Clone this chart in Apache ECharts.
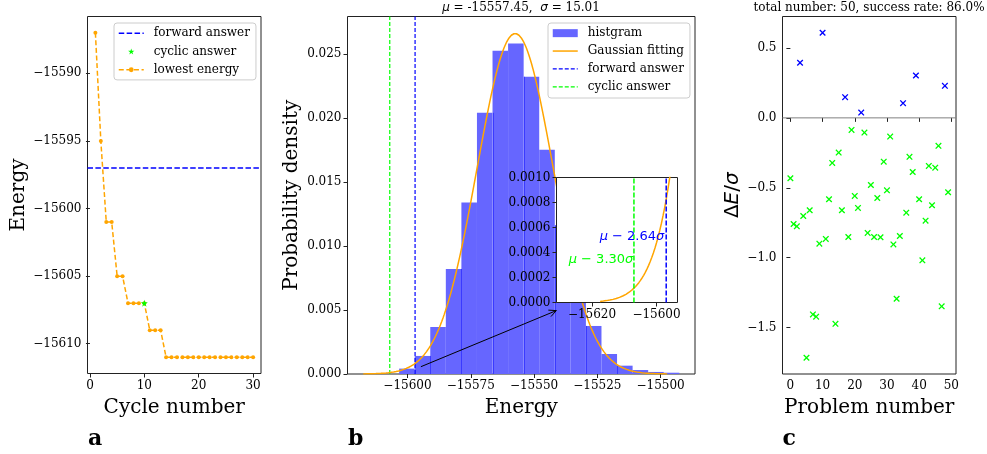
<!DOCTYPE html>
<html><head><meta charset="utf-8">
<script src="https://cdn.jsdelivr.net/npm/echarts@6/dist/echarts.min.js"></script>
<style>html,body{margin:0;padding:0;background:#fff}#main{width:987px;height:454px}</style>
</head><body><div id="main"></div>
<script>
// ---------------- Panel a data ----------------
const cycleNumbers = [1,2,3,4,5,6,7,8,9,10,11,12,13,14,15,16,17,18,19,20,21,22,23,24,25,26,27,28,29,30];
const lowestEnergy = [-15587,-15595,-15601,-15601,-15605,-15605,-15607,-15607,-15607,-15607,
  -15609,-15609,-15609,-15611,-15611,-15611,-15611,-15611,-15611,-15611,
  -15611,-15611,-15611,-15611,-15611,-15611,-15611,-15611,-15611,-15611];
const forwardAnswer = -15597;
const cyclicAnswer = -15607;
const cyclicCycle = 10;
const cycleTicks = [0,10,20,30];
const energyTicksA = [-15610,-15605,-15600,-15595,-15590];

// ---------------- Panel b data ----------------
const MU = -15557.45;
const SIGMA = 15.01;
const histEdges = [-15603.30,-15597.15,-15591.00,-15584.85,-15578.70,-15572.55,-15566.40,-15560.25,
  -15554.10,-15547.95,-15541.80,-15535.65,-15529.50,-15523.35,-15517.20,-15511.05,-15504.90,-15498.75,-15492.60];
const histDensity = [0.00042,0.00141,0.00367,0.0082,0.01339,0.02039,0.02523,0.02581,0.0232,
  0.0175,0.0116,0.0064,0.00375,0.00156,0.00065,0.00031,0.00016,0.0001];
const energyTicksB = [-15600,-15575,-15550,-15525,-15500];
const densityTicks = [0,0.005,0.010,0.015,0.020,0.025];
const insetEnergyTicks = [-15620,-15600];
const insetDensityTicks = [0,0.0002,0.0004,0.0006,0.0008,0.0010];
const arrowFrom = [-15594.7, 0.00057];
const arrowTo = [-15541.2, 0.00495];
const insetLabels = ['{i|μ} − 2.64{i|σ}', '{i|μ} − 3.30{i|σ}'];
const insetLabelPos = [[-15597.6, 0.00053], [-15607.2, 0.00034]];

// ---------------- Panel c data ----------------
const failProblems = [3,10,17,22,35,39,48];
const failDeltas = [0.394,0.609,0.148,0.038,0.105,0.303,0.229];
const successProblems = [0,1,2,4,5,6,7,8,9,11,12,13,14,15,16,18,19,20,21,23,24,25,26,27,28,29,30,31,32,33,34,36,37,38,40,41,42,43,44,45,46,47,49];
const successDeltas = [-0.432,-0.759,-0.776,-0.702,-1.716,-0.661,-1.406,-1.422,-0.900,-0.866,-0.582,-0.322,-1.473,-0.248,-0.661,
  -0.852,-0.086,-0.558,-0.644,-0.105,-0.823,-0.480,-0.852,-0.573,-0.854,-0.313,-0.518,-0.134,-0.905,-1.294,-0.845,
  -0.678,-0.279,-0.387,-0.582,-1.019,-0.735,-0.344,-0.625,-0.356,-0.200,-1.348,-0.532];
const problemTicks = [0,10,20,30,40,50];
const deltaTicks = [-1.5,-1.0,-0.5,0.0,0.5];

// ---------------- styling / layout ----------------
const SERIF = 'DejaVu Serif';
const BLUE = '#0000ff', GREEN = '#00ff00', ORANGE = '#ffa500';
const A_X = [-0.45, 31.45], A_Y = [-15612.2, -15585.8];
const B_X = [-15623.7, -15486.4], B_Y = [0, 0.02791];
const I_X = [-15631, -15593.5], I_Y = [0, 0.0010];
const C_X = [-2.45, 51.45], C_Y = [-1.832, 0.725];

// Fitted Gaussian curve (parameters given in the panel title)
const gaussPoints = [];
for (let k = 0; k <= 240; k++) {
  const x = MU - 4 * SIGMA + k * (8 * SIGMA / 240);
  const z = (x - MU) / SIGMA;
  gaussPoints.push([x, Math.exp(-0.5 * z * z) / (SIGMA * Math.sqrt(2 * Math.PI))]);
}

const minus = s => s.replace('-', '\u2212');
function axis(gridIndex, range, ticks, fmt, extra) {
  return Object.assign({
    type: 'value', gridIndex, min: range[0], max: range[1],
    axisLine: {show: false}, splitLine: {show: false},
    axisTick: {show: true, inside: false, length: 4, customValues: ticks, lineStyle: {color: '#222', width: 1}},
    axisLabel: {show: true, customValues: ticks, formatter: v => minus(fmt(v)), fontFamily: SERIF, fontSize: 12, color: '#000', margin: 6},
    nameLocation: 'middle',
    nameTextStyle: {fontFamily: SERIF, fontSize: 20, color: '#000', lineHeight: 22}
  }, extra || {});
}
const gridStyle = {show: true, borderColor: '#222', borderWidth: 1, backgroundColor: 'transparent', containLabel: false};
const xPath = 'path://M0,1.4L1.4,0L5,3.6L8.6,0L10,1.4L6.4,5L10,8.6L8.6,10L5,6.4L1.4,10L0,8.6L3.6,5Z';
const starPath = 'path://M50,0L61.2,34.6L97.6,34.6L68.1,55.9L79.4,90.5L50,69L20.6,90.5L31.9,55.9L2.4,34.6L38.8,34.6Z';

const chart = echarts.init(document.getElementById('main'), null, {renderer: 'canvas'});
const legendBase = {
  orient: 'vertical', selectedMode: false, itemWidth: 25, itemGap: 4,
  backgroundColor: 'rgba(255,255,255,0.8)', borderColor: '#cccccc', borderWidth: 1, borderRadius: 3,
  textStyle: {fontFamily: SERIF, fontSize: 12, color: '#000', lineHeight: 14.3, padding: [0, 0, 0, 5]},
  lineStyle: {width: 'inherit'}
};

chart.setOption({
  animation: false,
  grid: [
    Object.assign({left: 87.5, top: 16.5, width: 173.5, height: 357}, gridStyle),
    Object.assign({left: 347.5, top: 16.5, width: 347.5, height: 357.5}, gridStyle),
    Object.assign({}, gridStyle, {left: 556.5, top: 177.5, width: 121, height: 125, z: 10, backgroundColor: '#fff'}),
    Object.assign({left: 782.5, top: 16.5, width: 173.5, height: 357.5}, gridStyle)
  ],
  xAxis: [
    axis(0, A_X, cycleTicks, v => String(v), {name: 'Cycle number', nameGap: 20}),
    axis(1, B_X, energyTicksB, v => String(v), {name: 'Energy', nameGap: 20}),
    axis(2, I_X, insetEnergyTicks, v => String(v), {z: 12}),
    axis(3, C_X, problemTicks, v => String(v), {name: 'Problem number', nameGap: 20})
  ],
  yAxis: [
    axis(0, A_Y, energyTicksA, v => String(v), {name: 'Energy', nameGap: 58}),
    axis(1, B_Y, densityTicks, v => v.toFixed(3), {name: 'Probability density', nameGap: 43}),
    axis(2, I_Y, insetDensityTicks, v => v.toFixed(4), {z: 12}),
    axis(3, C_Y, deltaTicks, v => v.toFixed(1), {name: '{n|Δ}{i|E}{n|/}{i|σ}', nameGap: 38,
      nameTextStyle: {fontFamily: SERIF, fontSize: 20, color: '#000', lineHeight: 22,
        rich: {n: {fontFamily: 'DejaVu Sans', fontSize: 20}, i: {fontFamily: 'DejaVu Sans', fontStyle: 'italic', fontSize: 20}}}})
  ],
  legend: [
    Object.assign({}, legendBase, {
      left: 114, top: 23, itemHeight: 6, padding: [3, 6, 3, 4],
      data: [{name: 'forward answer', itemStyle: {opacity: 0}}, {name: 'cyclic answer'}, {name: 'lowest energy'}]
    }),
    Object.assign({}, legendBase, {
      left: 548, top: 23, itemHeight: 8, itemGap: 3.6, padding: [3, 6, 4, 4],
      formatter: n => n.replace(' (b)', ''),
      data: [{name: 'histgram', icon: 'rect'}, {name: 'Gaussian fitting', itemStyle: {opacity: 0}},
        {name: 'forward answer (b)', itemStyle: {opacity: 0}}, {name: 'cyclic answer (b)', itemStyle: {opacity: 0}}]
    })
  ],
  graphic: [
    {type: 'text', x: 521, y: 8, style: {text: '{i|μ} = -15557.45,  {i|σ} = 15.01', align: 'center', verticalAlign: 'middle',
      font: '12px "DejaVu Serif"', fill: '#000', rich: {i: {fontStyle: 'italic', fontFamily: 'DejaVu Sans', fontSize: 12}}}},
    {type: 'text', x: 869, y: 8, style: {text: 'total number: 50, success rate: 86.0%', align: 'center', verticalAlign: 'middle',
      font: '12px "DejaVu Serif"', fill: '#000'}},
    {type: 'text', x: 88, y: 439.5, style: {text: 'a', verticalAlign: 'middle', font: 'bold 22px "DejaVu Serif"', fill: '#000'}},
    {type: 'text', x: 348, y: 439.5, style: {text: 'b', verticalAlign: 'middle', font: 'bold 22px "DejaVu Serif"', fill: '#000'}},
    {type: 'text', x: 782.5, y: 439.5, style: {text: 'c', verticalAlign: 'middle', font: 'bold 22px "DejaVu Serif"', fill: '#000'}}
  ],
  series: [
    // ---- panel a ----
    {type: 'line', name: 'forward answer', xAxisIndex: 0, yAxisIndex: 0, symbol: 'none', z: 2,
      data: [[A_X[0], forwardAnswer], [A_X[1], forwardAnswer]],
      lineStyle: {color: BLUE, width: 1.5, type: [5.5, 2.4]}, itemStyle: {color: BLUE}},
    {type: 'line', name: 'lowest energy', xAxisIndex: 0, yAxisIndex: 0, symbol: 'circle', symbolSize: 4, z: 3,
      data: cycleNumbers.map((c, i) => [c, lowestEnergy[i]]),
      lineStyle: {color: ORANGE, width: 1.5, type: [5, 2.6]}, itemStyle: {color: ORANGE}},
    {type: 'scatter', name: 'cyclic answer', xAxisIndex: 0, yAxisIndex: 0, symbol: starPath, symbolSize: 7, z: 5,
      data: [[cyclicCycle, cyclicAnswer]], itemStyle: {color: GREEN, opacity: 1}},
    // ---- panel b ----
    {type: 'custom', name: 'histgram', xAxisIndex: 1, yAxisIndex: 1, z: 2,
      itemStyle: {color: '#6666ff'},
      data: histDensity.map((d, i) => [histEdges[i], histEdges[i + 1], d, i > 0 ? histDensity[i - 1] : 0, i]),
      encode: {x: [0, 1], y: 2},
      renderItem: (params, api) => {
        const p0 = api.coord([api.value(0), api.value(2)]);
        const p1 = api.coord([api.value(1), 0]);
        const children = [{type: 'rect', shape: {x: p0[0], y: p0[1], width: p1[0] - p0[0], height: p1[1] - p0[1]},
          style: {fill: '#6666ff'}}];
        const idx = api.value(4);
        if (idx >= 2 && idx <= 14 && idx % 2 === 0) {
          // darker seam where neighbouring translucent bars overlap
          const top = api.coord([api.value(0), Math.min(api.value(2), api.value(3))]);
          const xx = Math.round(p0[0]) + 0.5;
          children.push({type: 'line', shape: {x1: xx, y1: top[1], x2: xx, y2: p1[1]}, style: {stroke: '#3a3aff', lineWidth: 1}});
        }
        return {type: 'group', children};
      }},
    {type: 'line', name: 'Gaussian fitting', xAxisIndex: 1, yAxisIndex: 1, symbol: 'none', z: 4,
      data: gaussPoints, lineStyle: {color: ORANGE, width: 1.5}, itemStyle: {color: ORANGE}},
    {type: 'line', name: 'forward answer (b)', xAxisIndex: 1, yAxisIndex: 1, symbol: 'none', z: 3,
      data: [[forwardAnswer, B_Y[0]], [forwardAnswer, B_Y[1]]],
      lineStyle: {color: BLUE, width: 1.2, type: [4, 2]}, itemStyle: {color: BLUE}},
    {type: 'line', name: 'cyclic answer (b)', xAxisIndex: 1, yAxisIndex: 1, symbol: 'none', z: 3,
      data: [[cyclicAnswer, B_Y[0]], [cyclicAnswer, B_Y[1]]],
      lineStyle: {color: GREEN, width: 1.2, type: [4, 2]}, itemStyle: {color: GREEN}},
    {type: 'custom', xAxisIndex: 1, yAxisIndex: 1, z: 5, silent: true,
      data: [[arrowFrom[0], arrowFrom[1], arrowTo[0], arrowTo[1]]],
      renderItem: (params, api) => {
        const a = api.coord([api.value(0), api.value(1)]);
        const b = api.coord([api.value(2), api.value(3)]);
        const ang = Math.atan2(b[1] - a[1], b[0] - a[0]);
        const L = 8, w = 0.45;
        const h1 = [b[0] - L * Math.cos(ang - w), b[1] - L * Math.sin(ang - w)];
        const h2 = [b[0] - L * Math.cos(ang + w), b[1] - L * Math.sin(ang + w)];
        return {type: 'group', children: [
          {type: 'line', shape: {x1: a[0], y1: a[1], x2: b[0], y2: b[1]}, style: {stroke: '#000', lineWidth: 1}},
          {type: 'polyline', shape: {points: [h1, b, h2]}, style: {stroke: '#000', lineWidth: 1, fill: null}}
        ]};
      }},
    // ---- inset ----
    {type: 'line', xAxisIndex: 2, yAxisIndex: 2, symbol: 'none', z: 11, clip: true,
      data: gaussPoints, lineStyle: {color: ORANGE, width: 1.5}},
    {type: 'line', xAxisIndex: 2, yAxisIndex: 2, symbol: 'none', z: 11,
      data: [[forwardAnswer, I_Y[0]], [forwardAnswer, I_Y[1]]], lineStyle: {color: BLUE, width: 1.5, type: [5, 2]}},
    {type: 'line', xAxisIndex: 2, yAxisIndex: 2, symbol: 'none', z: 11,
      data: [[cyclicAnswer, I_Y[0]], [cyclicAnswer, I_Y[1]]], lineStyle: {color: GREEN, width: 1.5, type: [5, 2]}},
    {type: 'custom', xAxisIndex: 2, yAxisIndex: 2, z: 12, silent: true,
      data: insetLabelPos.map((p, i) => [p[0], p[1], i]),
      renderItem: (params, api) => {
        const p = api.coord([api.value(0), api.value(1)]);
        const i = api.value(2);
        const col = i === 0 ? BLUE : GREEN;
        return {type: 'text', x: p[0], y: p[1], style: {text: insetLabels[i], align: 'right', verticalAlign: 'middle',
          font: '13px "DejaVu Sans"', fill: col,
          rich: {i: {fontStyle: 'italic', fontFamily: 'DejaVu Sans', fontSize: 13, fill: col}}}};
      }},
    // ---- panel c ----
    {type: 'line', xAxisIndex: 3, yAxisIndex: 3, symbol: 'none', z: 2,
      data: [[C_X[0], 0], [C_X[1], 0]], lineStyle: {color: '#808080', width: 1}},
    {type: 'scatter', xAxisIndex: 3, yAxisIndex: 3, symbol: xPath, symbolSize: 6.5, z: 3,
      data: successProblems.map((p, i) => [p, successDeltas[i]]), itemStyle: {color: GREEN, opacity: 1}},
    {type: 'scatter', xAxisIndex: 3, yAxisIndex: 3, symbol: xPath, symbolSize: 6.5, z: 3,
      data: failProblems.map((p, i) => [p, failDeltas[i]]), itemStyle: {color: BLUE, opacity: 1}}
  ]
});
</script></body></html>
